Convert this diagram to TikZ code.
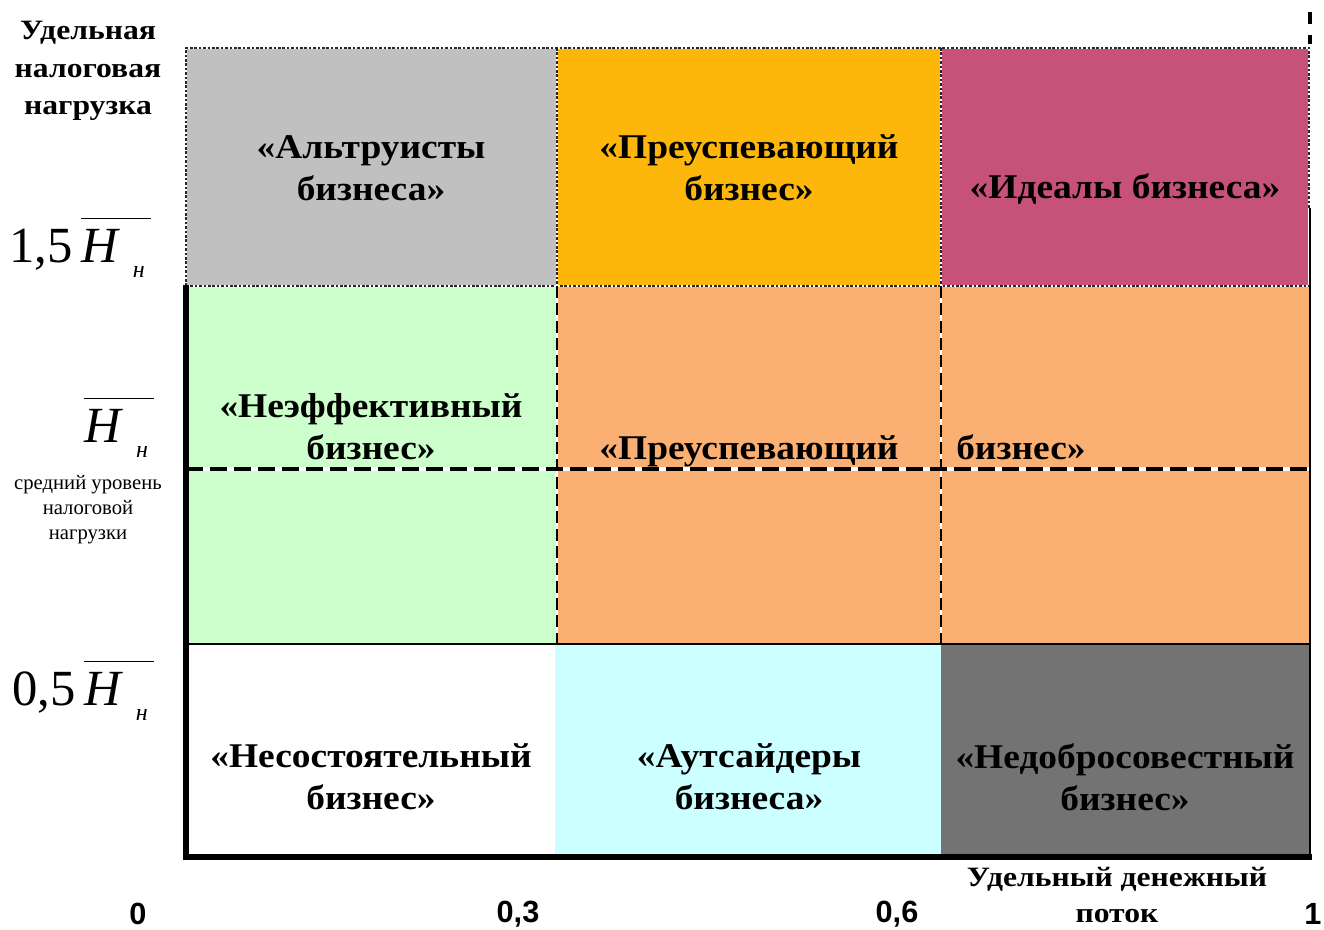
\documentclass[tikz,border=0pt]{standalone}
\usepackage{fontspec}
\setmainfont{Liberation Serif}
\newfontfamily\ticksans{Liberation Sans}
\newfontfamily\widebold{Liberation Serif}[FakeStretch=1.08]
\newfontfamily\axisbold{Liberation Serif}[FakeStretch=1.13]
\usetikzlibrary{positioning}

\definecolor{altgray}{HTML}{C0C0C0}
\definecolor{amber}{HTML}{FDB60A}
\definecolor{raspberry}{HTML}{C6527A}
\definecolor{mintgreen}{HTML}{CCFFCC}
\definecolor{peach}{HTML}{F9B072}
\definecolor{paleCyan}{HTML}{CCFFFF}
\definecolor{slate}{HTML}{737373}

% overlined H with subscript
\newcommand{\Hlevel}{$\overline{\hbox{\rule{0pt}{0.82em}\itshape H\hspace{0.3em}\raisebox{-0.3em}{\fontsize{18}{18}\selectfont н}\hspace{0.12em}}}$}

\begin{document}
\begin{tikzpicture}[
    x=0.75pt,y=-0.75pt,
    cell/.style={font=\widebold\fontsize{26}{31.5}\selectfont\bfseries,align=center,inner sep=0},
    axistitle/.style={font=\axisbold\fontsize{21}{28}\selectfont\bfseries,align=center,inner sep=0},
    flowtitle/.style={font=\axisbold\fontsize{21}{26.5}\selectfont\bfseries,align=center,inner sep=0},
    tick/.style={font=\ticksans\fontsize{23}{24}\selectfont\bfseries,inner sep=0},
    level/.style={font=\fontsize{38}{40}\selectfont,inner sep=0},
    note/.style={font=\fontsize{15.5}{18.75}\selectfont,align=center,inner sep=0},
    topedge/.style={line width=1.8pt,dash pattern=on 2pt off 1.3pt,black!85},
    splitline/.style={line width=2.6pt,dash pattern=on 13pt off 5pt},
    colline/.style={line width=2pt,dash pattern=on 9pt off 4pt}
  ]
    \useasboundingbox (0,0) rectangle (1324,929);

    % Cells
    \fill[altgray]   (186,48)  rectangle (557,286);
    \fill[amber]     (557,48)  rectangle (941,286);
    \fill[raspberry] (941,48)  rectangle (1310,286);
    \fill[mintgreen] (186,286) rectangle (557,644);
    \fill[peach]     (557,286) rectangle (1310,644);
    \fill[paleCyan]  (555,644) rectangle (941,855);
    \fill[slate]     (941,644) rectangle (1310,855);

    % Border of the top row
    \draw[white,line width=1.8pt] (186,286) -- (186,48) -- (1309,48) -- (1309,286) -- cycle;
    \draw[topedge] (186,286) -- (186,48) -- (1309,48) -- (1309,208);
    \draw[topedge] (186,286) -- (1309,286);
    \draw[white,line width=1.4pt] (557,48) -- (557,286) (941,48) -- (941,286);
    \draw[topedge,line width=1.4pt] (557,48) -- (557,286) (941,48) -- (941,286);
    \draw[line width=2.6pt,dash pattern=on 9pt off 8pt] (1310,12) -- (1310,44);

    % Dashed lines of the middle band
    \draw[white,line width=2pt] (557,286) -- (557,644) (941,286) -- (941,644);
    \draw[colline] (557,286) -- (557,644) (941,286) -- (941,644);
    \draw[white,line width=2.6pt] (186,469) -- (1310,469);
    \draw[splitline] (186,469) -- (1310,469);

    % Solid edges and axes
    \draw[line width=1.6pt] (186,644) -- (1310,644);
    \draw[line width=1.6pt] (1310,208) -- (1310,855);
    \draw[line width=3.8pt] (186,285) -- (186,857) -- (1312,857);

    % Cell labels
    \node[cell] (altruists) at (371,168) {«Альтруисты\\бизнеса»};
    \node[cell] (prosperTop) at (749,168) {«Преуспевающий\\бизнес»};
    \node[cell] (ideals) at (1125,189) {«Идеалы бизнеса»};
    \node[cell] (inefficient) at (371,427) {«Неэффективный\\бизнес»};
    \node[cell,anchor=base] (prosperMid) at (749,459) {«Преуспевающий};
    \node[cell,anchor=base west] (prosperMidEnd) at (956,459) {бизнес»};
    \node[cell] (insolvent) at (371,777) {«Несостоятельный\\бизнес»};
    \node[cell] (outsiders) at (749,777) {«Аутсайдеры\\бизнеса»};
    \node[cell] (dishonest) at (1125,777) {«Недобросовестный\\бизнес»};

    % Vertical axis
    \node[axistitle] (taxload) at (88,71) {Удельная\\налоговая\\нагрузка};
    \node[level,anchor=base west] (highlevel) at (9,262) {1,5\,\Hlevel};
    \node[level,anchor=base west] (midlevel) at (84,442) {\Hlevel};
    \node[note] (midnote) at (88,510) {средний уровень\\налоговой\\нагрузки};
    \node[level,anchor=base west] (lowlevel) at (12,705) {0,5\,\Hlevel};

    % Horizontal axis
    \node[tick] (tick0) at (138,914) {0};
    \node[tick] (tick3) at (518,914) {0,3};
    \node[tick] (tick6) at (897,914) {0,6};
    \node[tick] (tick1) at (1313,914) {1};
    \node[flowtitle,anchor=base] (cashflow) at (1117,922) {Удельный денежный\\поток};

\end{tikzpicture}
\end{document}
